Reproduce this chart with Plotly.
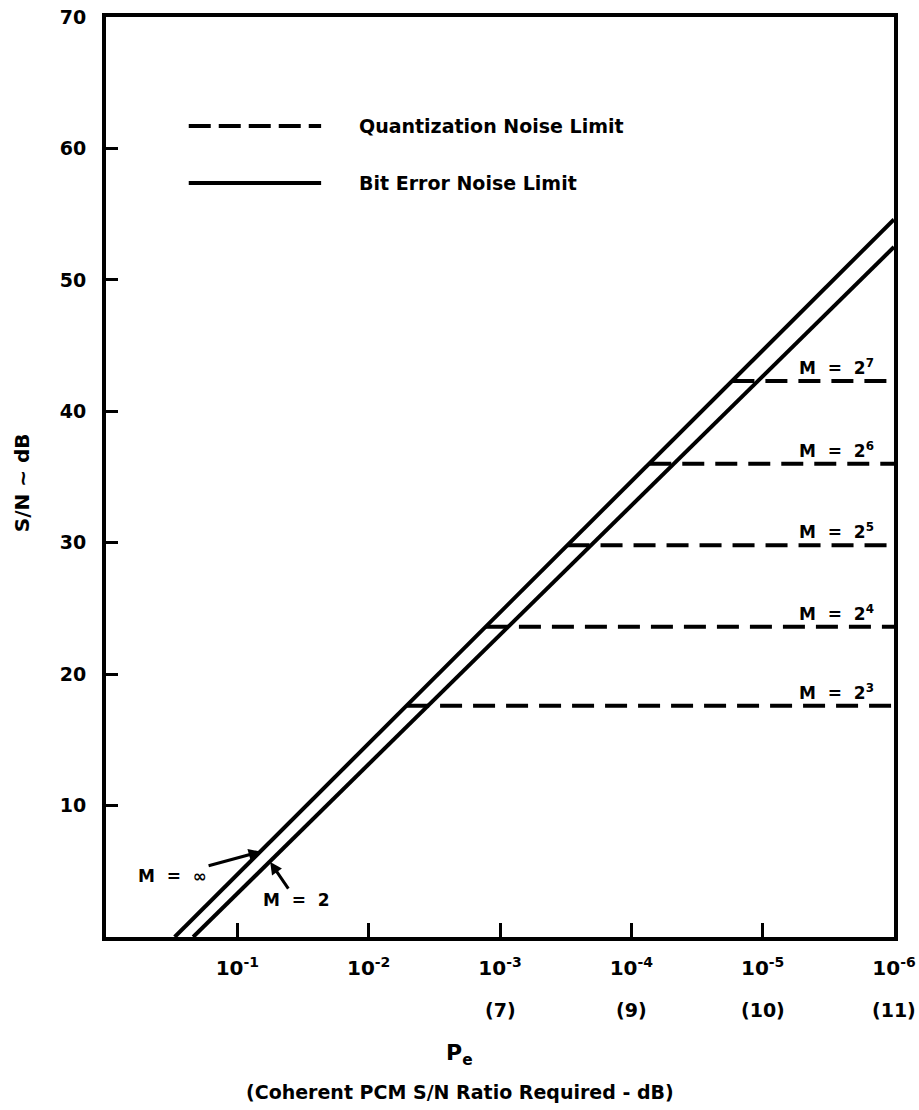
import math
import plotly.graph_objects as go

# ---- data ----
pe_inf = [0.30, 1e-6]          # M = infinity bit-error line
snr_inf = [0.0, 54.6]
pe_two = [0.217, 1e-6]         # M = 2 bit-error line
snr_two = [0.0, 52.5]

q_exps = [3, 4, 5, 6, 7]                       # M = 2^n
q_snr = [17.6, 23.6, 29.8, 36.0, 42.3]         # quantization noise limit (dB)
q_pe_start = [5.1e-3, 1.28e-3, 3.06e-4, 7.3e-5, 1.7e-5]
q_pe_end = 1e-6

x_tickvals = [1e-1, 1e-2, 1e-3, 1e-4, 1e-5, 1e-6]
x_exps = [-1, -2, -3, -4, -5, -6]
x_sublabels = ["", "", "(7)", "(9)", "(10)", "(11)"]
y_tickvals = [10, 20, 30, 40, 50, 60, 70]

m_inf_point = (0.0665, 6.5)    # where the M = inf pointer touches its line
m_two_point = (0.0562, 5.7)    # where the M = 2 pointer touches its line

FONT = "DejaVu Sans"
BLACK = "black"


def bold(size):
    return dict(family=FONT, size=size, color=BLACK, weight="bold")


fig = go.Figure()

fig.add_trace(go.Scatter(x=pe_inf, y=snr_inf, mode="lines",
                         line=dict(color=BLACK, width=4), showlegend=False))
fig.add_trace(go.Scatter(x=pe_two, y=snr_two, mode="lines",
                         line=dict(color=BLACK, width=4), showlegend=False))

for n, s, p0 in zip(q_exps, q_snr, q_pe_start):
    fig.add_trace(go.Scatter(x=[p0, q_pe_end], y=[s, s], mode="lines",
                             line=dict(color=BLACK, width=4, dash="22px,11px"),
                             showlegend=False))
    fig.add_annotation(x=math.log10(q_pe_end), y=s, xref="x", yref="y",
                       text=f"M  =  2<sup>{n}</sup>", showarrow=False,
                       xanchor="right", yanchor="bottom", xshift=-18, yshift=1,
                       font=bold(17))

# second row of x tick labels
for xv, lab in zip(x_tickvals, x_sublabels):
    if lab:
        fig.add_annotation(x=math.log10(xv), y=-0.079, xref="x", yref="paper",
                           text=lab, showarrow=False, xanchor="center",
                           yanchor="middle", font=bold(19))

# M labels with pointers
fig.add_annotation(x=math.log10(m_inf_point[0]), y=m_inf_point[1], xref="x", yref="y",
                   text="M  =  ∞", showarrow=True, arrowhead=2, arrowsize=0.8,
                   arrowwidth=3, arrowcolor=BLACK, ax=-88, ay=24, standoff=0,
                   font=bold(17))
fig.add_annotation(x=math.log10(m_two_point[0]), y=m_two_point[1], xref="x", yref="y",
                   text="M  =  2", showarrow=True, arrowhead=2, arrowsize=0.8,
                   arrowwidth=3, arrowcolor=BLACK, ax=26, ay=38, standoff=0,
                   font=bold(17))

# legend (drawn inside plot)
fig.add_shape(type="line", xref="paper", yref="paper", x0=0.105, x1=0.273,
              y0=0.8815, y1=0.8815, line=dict(color=BLACK, width=4, dash="22px,8px"))
fig.add_shape(type="line", xref="paper", yref="paper", x0=0.105, x1=0.273,
              y0=0.8196, y1=0.8196, line=dict(color=BLACK, width=4))
fig.add_annotation(x=0.3185, y=0.8815, xref="paper", yref="paper",
                   text="Quantization Noise Limit", showarrow=False,
                   xanchor="left", yanchor="middle", font=bold(19))
fig.add_annotation(x=0.3185, y=0.8196, xref="paper", yref="paper",
                   text="Bit Error Noise Limit", showarrow=False,
                   xanchor="left", yanchor="middle", font=bold(19))

# axis titles
fig.add_annotation(x=-0.107, y=0.494, xref="paper", yref="paper",
                   text="S/N ~ dB", showarrow=False, textangle=-90,
                   xanchor="center", yanchor="middle", font=bold(20))
fig.add_annotation(x=0.449, y=-0.128, xref="paper", yref="paper",
                   text="P<sub>e</sub>", showarrow=False,
                   xanchor="center", yanchor="middle", font=bold(22))
fig.add_annotation(x=0.449, y=-0.168, xref="paper", yref="paper",
                   text="(Coherent PCM S/N Ratio Required - dB)", showarrow=False,
                   xanchor="center", yanchor="middle", font=bold(19))

fig.update_xaxes(type="log", range=[0, -6], automargin=False,
                 tickvals=x_tickvals,
                 ticktext=[f"10<sup>{e}</sup>" for e in x_exps],
                 ticks="inside", ticklen=14, tickwidth=3, tickcolor=BLACK,
                 ticklabelstandoff=10, ticklabeloverflow="allow",
                 showline=True, linewidth=4, linecolor=BLACK, mirror=True,
                 showgrid=False, zeroline=False, tickfont=bold(20))
fig.update_yaxes(range=[0, 70], tickvals=y_tickvals, automargin=False,
                 ticks="inside", ticklen=12, tickwidth=3, tickcolor=BLACK,
                 ticklabelstandoff=12, ticklabeloverflow="allow",
                 showline=True, linewidth=4, linecolor=BLACK, mirror=True,
                 showgrid=False, zeroline=False, tickfont=bold(19))

fig.update_layout(width=919, height=1110,
                  margin=dict(l=106, r=25, t=17, b=173),
                  plot_bgcolor="white", paper_bgcolor="white",
                  showlegend=False)

# remove the browser's default page margin so the figure fills the window
fig.write_html("out.html",
               config={"displayModeBar": False},
               post_script="document.body.style.margin='0';"
                           "document.body.style.overflow='hidden';")
